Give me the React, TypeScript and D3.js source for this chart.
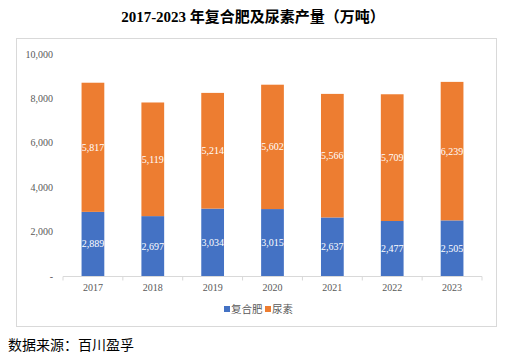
import React from "react";
import * as d3 from "d3";

const categories = ["2017", "2018", "2019", "2020", "2021", "2022", "2023"];
const compound = [2889, 2697, 3034, 3015, 2637, 2477, 2505];
const urea = [5817, 5119, 5214, 5602, 5566, 5709, 6239];
const yTicks = [0, 2000, 4000, 6000, 8000, 10000];
const seriesNames = ["复合肥", "尿素"];
const colors = ["#4472C4", "#ED7D31"];

const serif = "'Liberation Serif', 'Times New Roman', 'Noto Sans CJK SC', serif";

export default function App() {
  const W = 506, H = 357;
  const x = d3.scaleBand<string>().domain(categories).range([63, 482]).paddingInner(0.62).paddingOuter(0.31);
  const xb = d3.scaleBand<string>().domain(categories).range([63, 482]);
  const y = d3.scaleLinear().domain([0, 10000]).range([276, 54]);
  const fmt = d3.format(",");
  const rows = categories.map((c, i) => ({ c, a: compound[i], b: urea[i] }));
  return (
    <svg width={W} height={H} style={{ position: "absolute", left: 0, top: 0, background: "#fff" }}>
      <text x={253} y={22} textAnchor="middle" fontFamily={serif} fontWeight="bold" fontSize={15} fill="#000">
        2017-2023 年复合肥及尿素产量（万吨）
      </text>
      <rect x={16.5} y={38.5} width={480} height={288} fill="none" stroke="#d9d9d9" strokeWidth={1} />
      {yTicks.map((t) => (
        <text key={t} x={53} y={y(t) + 3.5} textAnchor="end" fontFamily={serif} fontSize={10} fill="#595959">
          {t === 0 ? "-" : fmt(t)}
        </text>
      ))}
      {rows.map((r) => {
        const bx = x(r.c)!;
        const bw = x.bandwidth();
        return (
          <g key={r.c}>
            <rect x={bx} y={y(r.a)} width={bw} height={y(0) - y(r.a)} fill={colors[0]} />
            <rect x={bx} y={y(r.a + r.b)} width={bw} height={y(r.a) - y(r.a + r.b)} fill={colors[1]} />
            <text x={bx + bw / 2} y={(y(0) + y(r.a)) / 2 + 3.5} textAnchor="middle" fontFamily={serif} fontSize={10} fill="#fff">
              {fmt(r.a)}
            </text>
            <text x={bx + bw / 2} y={(y(r.a) + y(r.a + r.b)) / 2 + 3.5} textAnchor="middle" fontFamily={serif} fontSize={10} fill="#fff">
              {fmt(r.b)}
            </text>
            <text x={xb(r.c)! + xb.bandwidth() / 2} y={291} textAnchor="middle" fontFamily={serif} fontSize={10} fill="#595959">
              {r.c}
            </text>
          </g>
        );
      })}
      <line x1={63} x2={482} y1={276.5} y2={276.5} stroke="#d9d9d9" />
      {categories.concat([""]).map((_, i) => {
        const tx = 63 + i * xb.bandwidth();
        return <line key={i} x1={tx} x2={tx} y1={276.5} y2={280.5} stroke="#d9d9d9" />;
      })}
      <g>
        <rect x={224} y={306} width={6} height={6} fill={colors[0]} />
        <text x={231} y={312.5} fontFamily={serif} fontSize={10.5} fill="#595959">{seriesNames[0]}</text>
        <rect x={265} y={306} width={6} height={6} fill={colors[1]} />
        <text x={272} y={312.5} fontFamily={serif} fontSize={10.5} fill="#595959">{seriesNames[1]}</text>
      </g>
      <text x={8} y={350} fontFamily="'Noto Sans CJK SC', sans-serif" fontSize={14} fill="#000">
        数据来源：百川盈孚
      </text>
    </svg>
  );
}
